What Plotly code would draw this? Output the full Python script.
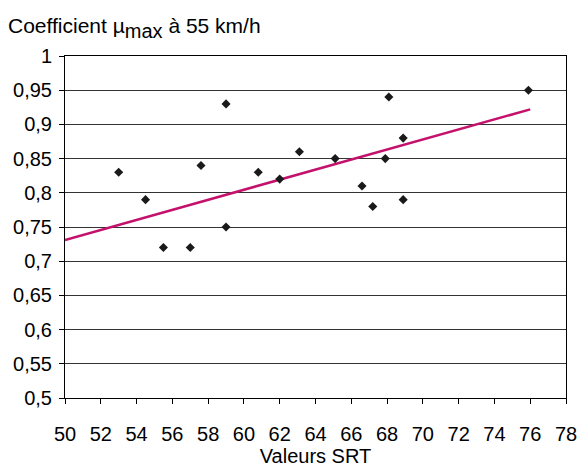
import plotly.graph_objects as go

srt = [53, 54.5, 55.5, 57, 57.6, 59, 59, 60.8, 62, 63.1, 65.1, 66.6, 67.2, 67.9, 68.1, 68.9, 68.9, 75.9]
mu = [0.83, 0.79, 0.72, 0.72, 0.84, 0.93, 0.75, 0.83, 0.82, 0.86, 0.85, 0.81, 0.78, 0.85, 0.94, 0.88, 0.79, 0.95]
trend_x = [50, 76]
trend_y = [0.731, 0.922]
x_ticks = list(range(50, 79, 2))
y_ticks = [0.5, 0.55, 0.6, 0.65, 0.7, 0.75, 0.8, 0.85, 0.9, 0.95, 1.0]
y_labels = ["0,5", "0,55", "0,6", "0,65", "0,7", "0,75", "0,8", "0,85", "0,9", "0,95", "1"]

fig = go.Figure()
fig.add_trace(go.Scatter(x=trend_x, y=trend_y, mode="lines",
                         line=dict(color="#C4116C", width=2.5), hoverinfo="skip"))
fig.add_trace(go.Scatter(x=srt, y=mu, mode="markers",
                         marker=dict(symbol="diamond", size=7, color="#1a1a1a")))

font = "Arial, Liberation Sans, Helvetica, sans-serif"
fig.update_layout(
    width=578, height=467,
    margin=dict(l=65, r=12, t=56, b=69),
    paper_bgcolor="white", plot_bgcolor="white",
    showlegend=False,
    separators=", ",
    font=dict(family=font, size=20, color="black"),
    title=dict(text="Coefficient µ<sub><span style='font-size:20px'>max</span></sub> à 55 km/h",
               x=8/578, xanchor="left",
               xref="container", y=1 - 26/467, yanchor="middle", yref="container",
               font=dict(family=font, size=21, color="black")),
    xaxis=dict(range=[50, 78], tickvals=x_ticks, ticks="outside", ticklen=5, tickcolor="black",
               showgrid=False, zeroline=False, showline=True, linecolor="black", linewidth=1,
               mirror=True, tickfont=dict(size=20), ticklabelstandoff=13, automargin=False,
               title=dict(text="Valeurs SRT", font=dict(size=20), standoff=2)),
    yaxis=dict(range=[0.5, 1.0], tickvals=y_ticks, ticktext=y_labels, ticks="outside", ticklen=5,
               tickcolor="black", showgrid=True, gridcolor="#333333", gridwidth=1,
               zeroline=False, showline=True, linecolor="black", linewidth=1, mirror=True,
               tickfont=dict(size=20), ticklabelstandoff=3, automargin=False),
)
fig.write_html("out.html")
